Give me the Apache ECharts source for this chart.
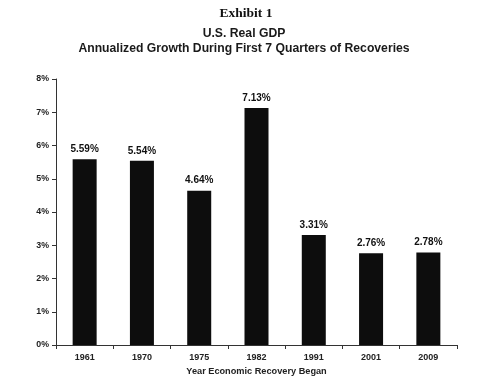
<!DOCTYPE html>
<html><head><meta charset="utf-8">
<script src="https://cdn.jsdelivr.net/npm/echarts@6/dist/echarts.min.js"></script>
<style>html,body{margin:0;padding:0;background:#fff}#c{width:500px;height:392px}</style>
</head><body><div id="c"></div>
<script>
const categories = ['1961','1970','1975','1982','1991','2001','2009'];
const growth = [5.59, 5.54, 4.64, 7.13, 3.31, 2.76, 2.78];
const yTicks = [0,1,2,3,4,5,6,7,8];

const chart = echarts.init(document.getElementById('c'), null, {renderer:'canvas'});
chart.setOption({
  animation:false,
  backgroundColor:'#fff',
  title:[
    {text:'Exhibit 1', left:241, top:2, textAlign:'center',
     textStyle:{fontFamily:'Liberation Serif', fontSize:13.5, fontWeight:'bold', color:'#111'}},
    {text:'U.S. Real GDP\nAnnualized Growth During First 7 Quarters of Recoveries', left:239, top:21, textAlign:'center',
     textStyle:{fontFamily:'Liberation Sans', fontSize:12.2, fontWeight:'bold', color:'#1a1a1a', lineHeight:15}}
  ],
  grid:{left:56, right:43, top:79, bottom:47},
  xAxis:{type:'category', data:categories,
    name:'Year Economic Recovery Began', nameLocation:'middle', nameGap:21,
    nameTextStyle:{fontFamily:'Liberation Sans', fontSize:9.2, fontWeight:'bold', color:'#222'},
    axisLine:{lineStyle:{color:'#333', width:1}},
    axisTick:{show:true, alignWithLabel:false, length:4, lineStyle:{color:'#333'}},
    axisLabel:{fontFamily:'Liberation Sans', fontSize:9, fontWeight:'bold', color:'#222', margin:8}
  },
  yAxis:{type:'value', min:0, max:8, interval:1,
    axisLine:{show:true, lineStyle:{color:'#333', width:1}},
    axisTick:{show:true, length:4, lineStyle:{color:'#333'}},
    splitLine:{show:false},
    axisLabel:{fontFamily:'Liberation Sans', fontSize:8.8, fontWeight:'bold', color:'#222', margin:7,
      formatter:v=> yTicks.includes(v) ? v+'%' : ''}
  },
  series:[{type:'bar', data:growth, barWidth:24,
    itemStyle:{color:'#0d0d0d'},
    label:{show:true, position:'top', distance:5, formatter:p=>p.value.toFixed(2)+'%',
      fontFamily:'Liberation Sans', fontSize:10, fontWeight:'bold', color:'#111'}
  }]
});
</script></body></html>
